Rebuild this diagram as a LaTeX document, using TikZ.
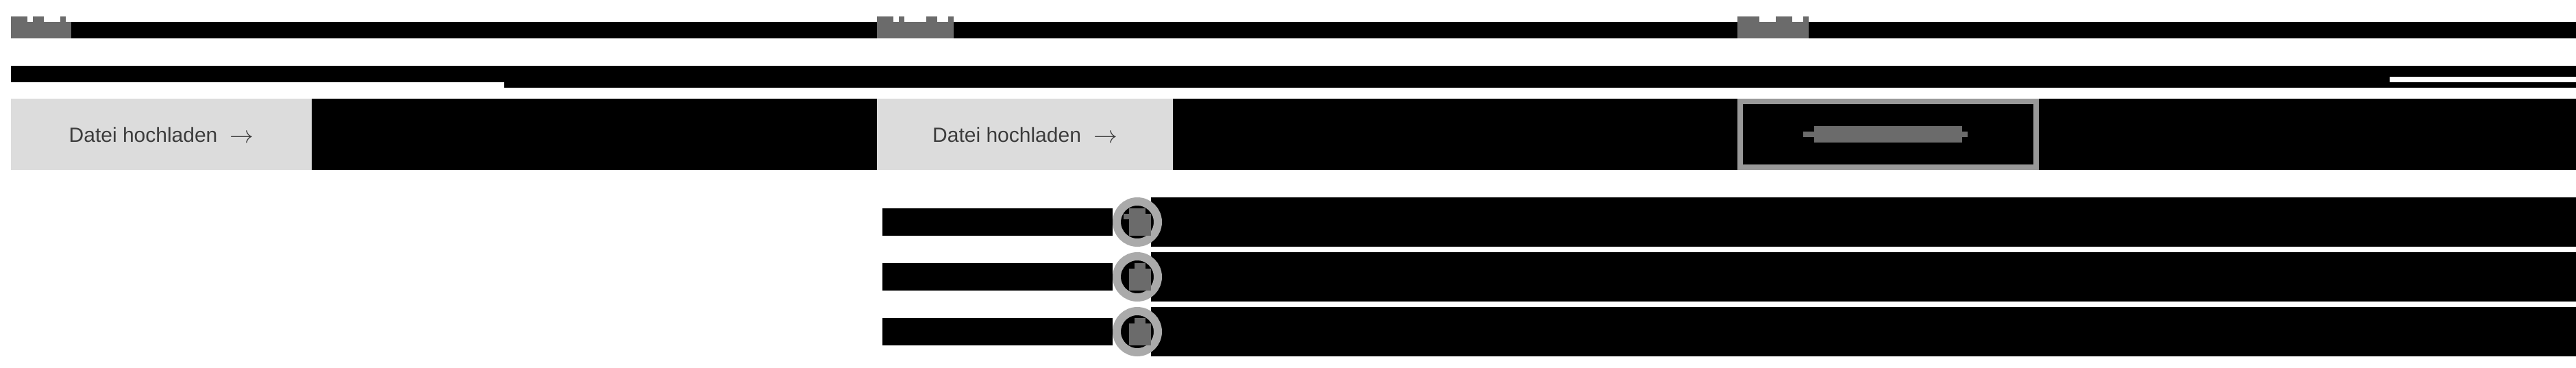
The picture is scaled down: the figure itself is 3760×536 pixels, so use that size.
\documentclass[tikz,border=0pt]{standalone}
\usepackage{fontspec}
\setmainfont{Liberation Sans}
\usepackage{tikz}
\usetikzlibrary{positioning}
\usepackage{xcolor}
\definecolor{grisbouton}{HTML}{DCDCDC}
\definecolor{griscadre}{HTML}{999999}
\definecolor{grisflou}{HTML}{6B6B6B}
\definecolor{grisanneau}{HTML}{AAAAAA}
\definecolor{gristexte}{HTML}{3C3C3C}
\tikzset{
    bloc/.style 2 args={rectangle,anchor=north west,inner sep=0pt,outer sep=0pt,
        fill=black,minimum width=#1pt,minimum height=#2pt},
    flou/.style={fill=grisflou},
    bouton/.style={rectangle,inner sep=0pt,fill=grisbouton,text=gristexte,
        minimum width=#1pt,minimum height=104pt,text height=22pt,text depth=0pt,
        font=\fontsize{30}{36}\selectfont},
    anneau/.style={circle,inner sep=0pt,fill=black,draw=grisanneau,line width=12pt,
        minimum size=60pt}
}
\newcommand{\fleche}{\hspace{18pt}\raisebox{-1pt}{\scalebox{1.4}{$\rightarrow$}}}
\begin{document}
\begin{tikzpicture}[x=1pt,y=-1pt]
\useasboundingbox (0,0) rectangle (3760,536);
% Titres masques et leurs trois taches grises
\node[bloc={3744}{24}] (titre) at (16,32) {};
\node[bloc={88}{24},flou] (flouA) at (16,32) {};
\node[bloc={112}{24},flou] (flouB) at (1280,32) {};
\node[bloc={104}{24},flou] (flouC) at (2536,32) {};
\foreach \xd/\lg in {16/24,48/16,88/8,1280/24,1312/8,1352/16,1384/8,2536/32,2592/24,2632/8}
    \node[bloc={\lg}{8},flou] (haut\xd) at (\xd,24) {};
% Bande du dessous
\node[bloc={720}{24}] (bandeA) at (16,96) {};
\node[bloc={3024}{32}] (bandeB) at (736,96) {};
\node[bloc={272}{8},fill=white] (fente) at (3488,112) {};
% Rangee des boutons
\node[bloc={3744}{104}] (rangee) at (16,144) {};
\node[bouton=439] (boutonA) at (235.5,196) {Datei hochladen\fleche};
\node[bouton=432] (boutonB) at (1496,196) {Datei hochladen\fleche};
\node[rectangle,inner sep=0pt,fill=black,draw=griscadre,line width=8pt,
    minimum width=432pt,minimum height=96pt] (cadre) at (2756,196) {};
\node[bloc={216}{24},flou] (flouD) at (2648,184) {};
\node[bloc={240}{8},flou] (flouE) at (2632,192) {};
% Les trois lignes avec anneau
\foreach \i/\yh in {1/288,2/368,3/448}{
    \node[bloc={2080}{72}] (ligne\i) at (1680,\yh) {};
    \node[bloc={336}{40}] (etiq\i) at (1288,\yh+16) {};
    \node[anneau] (anneau\i) at (1660,\yh+36) {};
}
\node[bloc={24}{8},flou] (teteA) at (1648,304) {};
\node[bloc={40}{8},flou] (colA) at (1640,312) {};
\node[bloc={32}{24},flou] (corpsA) at (1648,320) {};
\foreach \i/\yh in {2/368,3/448}{
    \node[bloc={16}{8},flou] (tete\i) at (1656,\yh+16) {};
    \node[bloc={32}{32},flou] (corps\i) at (1648,\yh+24) {};
}
\end{tikzpicture}
\end{document}
